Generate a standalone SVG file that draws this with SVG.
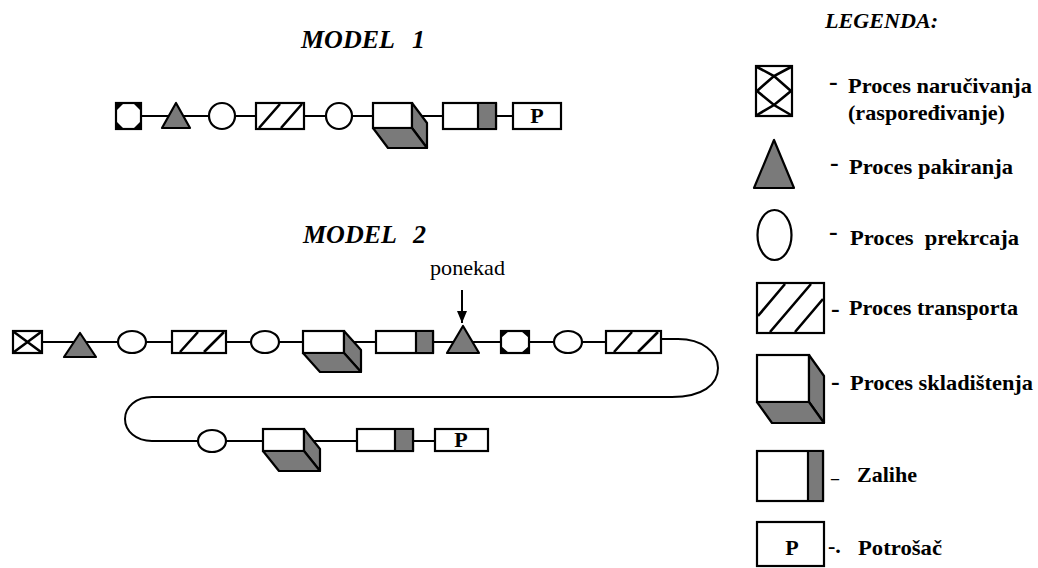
<svg xmlns="http://www.w3.org/2000/svg" width="1038" height="568" viewBox="0 0 1038 568">
<style>
.s{fill:#fff;stroke:#000;stroke-width:2.2}
.g{fill:#7a7a7a;stroke:#000;stroke-width:2.2;stroke-linejoin:round}
.b{fill:#000;stroke:none}
.ln{fill:none;stroke:#000;stroke-width:2}
.st{fill:none;stroke:#000;stroke-width:2.6}
.t{font-family:"Liberation Serif","DejaVu Serif",serif;font-weight:bold;font-size:22px;fill:#000}
.d{font-size:26px}
.ti{font-family:"Liberation Serif","DejaVu Serif",serif;font-weight:bold;font-style:italic;fill:#000}
.r{font-family:"Liberation Serif","DejaVu Serif",serif;font-size:21px;fill:#000}
</style>
<defs>
<marker id="ah" markerWidth="12" markerHeight="10" refX="12" refY="5" orient="auto" markerUnits="userSpaceOnUse" viewBox="0 0 12 10">
<path d="M0,0 L12,5 L0,10 z" fill="#000"/>
</marker>
</defs>
<rect x="0" y="0" width="1038" height="568" fill="#fff"/>

<!-- titles -->
<text class="ti" x="301" y="48" font-size="26">MODEL <tspan x="412">1</tspan></text>
<text class="ti" x="303" y="243" font-size="26">MODEL <tspan x="413">2</tspan></text>
<text class="r" x="430" y="275" textLength="75" lengthAdjust="spacingAndGlyphs">ponekad</text>

<!-- connectors -->
<g id="connectors">
<path class="ln" d="M141,116 H513"/>
<path class="ln" d="M42,342 H661"/>
<path class="ln" d="M661,339 H678 C702,339 718,352 718,368 C718,385 702,397 672,397 H152 C136,397 125,407 125,419 C125,431 136,441 152,441 H435"/>
<path class="ln" d="M462,290 V323" marker-end="url(#ah)"/>
</g>

<!-- MODEL 1 -->
<g id="m1-narucivanje">
<rect class="s" x="116" y="103" width="25" height="26"/>
<path class="b" d="M116,103 h8 l-8,8 z M141,103 h-8 l8,8 z M116,129 h8 l-8,-8 z M141,129 h-8 l8,-8 z"/>
</g>
<g id="m1-pakiranje"><path class="g" d="M162,128 L190,128 L176,103 z"/></g>
<g id="m1-prekrcaj1"><circle class="s" cx="222" cy="116" r="13"/></g>
<g id="m1-transport">
<rect class="s" x="256" y="103" width="48" height="26"/>
<path class="st" d="M259,128 L280,104 M281,128 L302,104"/>
</g>
<g id="m1-prekrcaj2"><circle class="s" cx="339" cy="116" r="13"/></g>
<g id="m1-skladiste">
<rect class="s" x="373" y="103" width="39" height="25"/>
<path class="g" d="M412,103 L427,123 L427,148 L412,128 z"/>
<path class="g" d="M373,128 L388,148 L427,148 L412,128 z"/>
</g>
<g id="m1-zalihe">
<rect class="s" x="443" y="103" width="53" height="26"/>
<rect class="g" x="478" y="103" width="18" height="26"/>
</g>
<g id="m1-potrosac">
<rect class="s" x="513" y="103" width="48" height="26"/>
<text class="t" x="537" y="123" font-size="17" text-anchor="middle">P</text>
</g>

<!-- MODEL 2 row 1 -->
<g id="m2-narucivanje1">
<rect class="s" x="13" y="331" width="29" height="22"/>
<path class="st" d="M14,332 L41,352 M41,332 L14,352"/>
</g>
<g id="m2-pakiranje1"><path class="g" d="M64,357 L96,357 L80,333 z"/></g>
<g id="m2-prekrcaj1"><ellipse class="s" cx="132" cy="342" rx="14" ry="11"/></g>
<g id="m2-transport1">
<rect class="s" x="172" y="331" width="54" height="22"/>
<path class="st" d="M180,352 L198,332 M204,352 L224,332"/>
</g>
<g id="m2-prekrcaj2"><ellipse class="s" cx="265" cy="342" rx="14" ry="11"/></g>
<g id="m2-skladiste1">
<rect class="s" x="303" y="331" width="41" height="22"/>
<path class="g" d="M344,331 L361,350 L361,372 L344,353 z"/>
<path class="g" d="M303,353 L320,372 L361,372 L344,353 z"/>
</g>
<g id="m2-zalihe1">
<rect class="s" x="376" y="331" width="57" height="22"/>
<rect class="g" x="416" y="331" width="17" height="22"/>
</g>
<g id="m2-pakiranje2"><path class="g" d="M447,353 L479,353 L463,326 z"/></g>
<g id="m2-narucivanje2">
<rect class="s" x="501" y="331" width="28" height="22"/>
<path class="b" d="M501,331 h8 l-8,7 z M529,331 h-8 l8,7 z M501,353 h8 l-8,-7 z M529,353 h-8 l8,-7 z"/>
</g>
<g id="m2-prekrcaj3"><ellipse class="s" cx="568" cy="342" rx="14" ry="11"/></g>
<g id="m2-transport2">
<rect class="s" x="606" y="331" width="55" height="22"/>
<path class="st" d="M614,352 L632,332 M638,352 L658,332"/>
</g>

<!-- MODEL 2 row 2 -->
<g id="m2-prekrcaj4"><ellipse class="s" cx="212" cy="441" rx="14" ry="11"/></g>
<g id="m2-skladiste2">
<rect class="s" x="263" y="429" width="41" height="22"/>
<path class="g" d="M304,429 L320,449 L320,471 L304,451 z"/>
<path class="g" d="M263,451 L279,471 L320,471 L304,451 z"/>
</g>
<g id="m2-zalihe2">
<rect class="s" x="357" y="429" width="56" height="22"/>
<rect class="g" x="395" y="429" width="18" height="22"/>
</g>
<g id="m2-potrosac">
<rect class="s" x="435" y="429" width="53" height="22"/>
<text class="t" x="461" y="447" font-size="17" text-anchor="middle">P</text>
</g>

<!-- LEGEND -->
<text class="ti" x="825" y="28" font-size="21" textLength="113" lengthAdjust="spacingAndGlyphs">LEGENDA:</text>

<g id="leg-narucivanje">
<rect class="s" x="756" y="66" width="36" height="50" stroke-width="2.6"/>
<path class="st" d="M757,67 L774,76 L791,91 M791,67 L774,76 L757,91 M757,91 L774,105 L791,115 M791,91 L774,105 L757,115"/>
<text class="t"><tspan class="d" x="829" y="90">-</tspan><tspan x="848" y="93" textLength="184" lengthAdjust="spacingAndGlyphs">Proces naručivanja</tspan></text>
<text class="t" x="848" y="120" textLength="157" lengthAdjust="spacingAndGlyphs">(raspoređivanje)</text>
</g>
<g id="leg-pakiranje">
<path class="g" d="M754,188 L794,188 L774,140 z" stroke-width="2.6"/>
<text class="t"><tspan class="d" x="830" y="171">-</tspan><tspan x="849" y="174" textLength="164" lengthAdjust="spacingAndGlyphs">Proces pakiranja</tspan></text>
</g>
<g id="leg-prekrcaj">
<ellipse class="s" cx="774.5" cy="235" rx="17" ry="25" stroke-width="2.6"/>
<text class="t" xml:space="preserve"><tspan class="d" x="829" y="240">-</tspan><tspan x="850" y="245" textLength="169" lengthAdjust="spacingAndGlyphs">Proces  prekrcaja</tspan></text>
</g>
<g id="leg-transport">
<rect class="s" x="757" y="283" width="67" height="50" stroke-width="2.6"/>
<path class="st" d="M758,316 L785,284 M770,332 L811,284 M795,332 L823,299"/>
<text class="t"><tspan class="d" x="831" y="317">-</tspan><tspan x="849" y="315" textLength="169" lengthAdjust="spacingAndGlyphs">Proces transporta</tspan></text>
</g>
<g id="leg-skladiste">
<rect class="s" x="757" y="355" width="52" height="47" stroke-width="2.6"/>
<path class="g" d="M809,355 L824,376 L824,423 L809,402 z" stroke-width="2.6"/>
<path class="g" d="M757,402 L772,423 L824,423 L809,402 z" stroke-width="2.6"/>
<text class="t"><tspan class="d" x="831" y="390">-</tspan><tspan x="850" y="390" textLength="183" lengthAdjust="spacingAndGlyphs">Proces skladištenja</tspan></text>
</g>
<g id="leg-zalihe">
<rect class="s" x="757" y="451" width="66" height="50" stroke-width="2.6"/>
<rect class="g" x="808" y="451" width="15" height="50" stroke-width="2.6"/>
<text class="t"><tspan x="831" y="478" font-size="16">_</tspan><tspan x="857" y="482" textLength="60" lengthAdjust="spacingAndGlyphs">Zalihe</tspan></text>
</g>
<g id="leg-potrosac">
<rect class="s" x="757" y="522" width="67" height="44" stroke-width="2.6"/>
<text class="t" x="792" y="555" font-size="20" text-anchor="middle">P</text>
<text class="t"><tspan x="828" y="553">-.</tspan><tspan x="858" y="555" textLength="84" lengthAdjust="spacingAndGlyphs">Potrošač</tspan></text>
</g>
</svg>
